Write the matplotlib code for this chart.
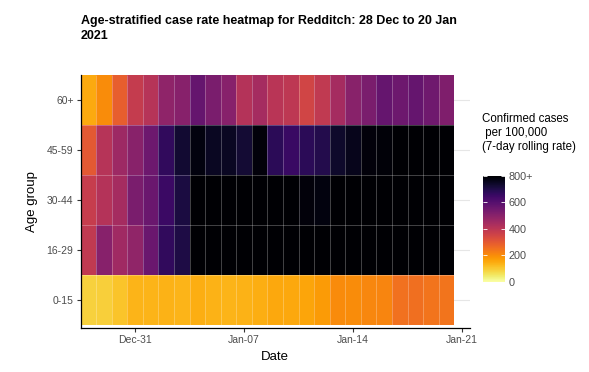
import numpy as np
import pandas as pd
import matplotlib
matplotlib.use("Agg")
import matplotlib.pyplot as plt
import matplotlib.dates as mdates
from matplotlib.colors import Normalize

plt.rcParams['font.family'] = ['Liberation Sans', 'DejaVu Sans']

# dati (tassi su 7 giorni per 100.000)
age_groups = ['0-15', '16-29', '30-44', '45-59', '60+']
start_date = '2020-12-28'
end_date = '2021-01-20'
rate_0_15 = [90, 92, 110, 135, 135, 140, 135, 145, 138, 135, 140, 145,
             155, 155, 160, 175, 205, 200, 210, 215, 250, 255, 245, 245]
rate_16_29 = [390, 505, 455, 485, 560, 670, 705, 880, 950, 1000, 1020, 1010,
              990, 960, 930, 900, 920, 950, 980, 1000, 1010, 990, 960, 940]
rate_30_44 = [375, 415, 445, 530, 560, 650, 710, 830, 860, 880, 900, 890,
              870, 830, 785, 780, 820, 850, 880, 900, 910, 920, 900, 880]
rate_45_59 = [300, 410, 460, 500, 555, 670, 730, 780, 750, 750, 725, 785,
              680, 655, 680, 695, 740, 760, 785, 790, 820, 840, 860, 850]
rate_60plus = [150, 200, 290, 380, 410, 490, 505, 570, 530, 505, 415, 445,
               405, 395, 350, 390, 445, 500, 530, 570, 555, 570, 550, 520]
cbar_ticks = [0, 200, 400, 600, 800]
cbar_labels = ['0', '200', '400', '600', '800+']
x_ticks = ['2020-12-31', '2021-01-07', '2021-01-14', '2021-01-21']

days = pd.date_range(start=start_date, end=end_date)
rates = np.array([rate_0_15, rate_16_29, rate_30_44, rate_45_59, rate_60plus])
rates = np.clip(rates, 0, 800)  # scala limitata a 800+

x_num = mdates.date2num(days)
x_edges = np.append(x_num - 0.5, x_num[-1] + 0.5)
y_edges = np.arange(len(age_groups) + 1) - 0.5

fig = plt.figure(figsize=(5.89, 3.72), dpi=100)
ax = fig.add_axes([0.1367, 0.118, 0.661, 0.680])

# griglia orizzontale leggera
for i in range(len(age_groups)):
    ax.axhline(i, color='#e6e6e6', linewidth=0.8, zorder=0)

norm = Normalize(vmin=0, vmax=800)
mesh = ax.pcolormesh(x_edges, y_edges, rates, cmap='inferno_r', norm=norm, zorder=1)
# bordi bianchi semitrasparenti tra le celle
ax.vlines(x_edges[1:-1], y_edges[0], y_edges[-1], color='white', alpha=0.3, linewidth=0.6, zorder=2)
ax.hlines(y_edges[1:-1], x_edges[0], x_edges[-1], color='white', alpha=0.3, linewidth=0.6, zorder=2)

ax.set_xlim(x_num[0] - 0.5, x_num[-1] + 1.5)
ax.set_ylim(-0.56, len(age_groups) - 0.5)
ax.set_yticks(range(len(age_groups)))
ax.set_yticklabels(age_groups)
ax.set_xticks(mdates.date2num(pd.to_datetime(x_ticks)))
ax.xaxis.set_major_formatter(mdates.DateFormatter('%b-%d'))

for side in ['top', 'right']:
    ax.spines[side].set_visible(False)
for side in ['left', 'bottom']:
    ax.spines[side].set_color('black')
    ax.spines[side].set_linewidth(0.9)
ax.tick_params(axis='both', length=3, width=0.8, color='#333333', labelcolor='#4d4d4d', labelsize=7.5, pad=2)
ax.set_xlabel('Date', fontsize=9.5, labelpad=4)
ax.set_ylabel('Age group', fontsize=9.5, labelpad=6)

fig.text(0.137, 1 - 15 / 372, 'Age-stratified case rate heatmap for Redditch: 28 Dec to 20 Jan\n2021',
         fontsize=9, fontweight='bold', ha='left', va='top', linespacing=1.35)

# legenda colori
cax = fig.add_axes([0.820, 0.242, 0.037, 0.285])
cbar = fig.colorbar(mesh, cax=cax, ticks=cbar_ticks)
cbar.ax.set_yticklabels(cbar_labels)
cbar.outline.set_visible(False)
cbar.ax.tick_params(direction='in', color='white', length=3, width=0.6, labelsize=7.8,
                    labelcolor='#4d4d4d', pad=3, left=True, right=True)
fig.text(0.818, 1 - 113 / 372, 'Confirmed cases\n per 100,000\n(7-day rolling rate)',
         fontsize=8.3, ha='left', va='top', linespacing=1.2)

fig.savefig('out.png', dpi=100)
